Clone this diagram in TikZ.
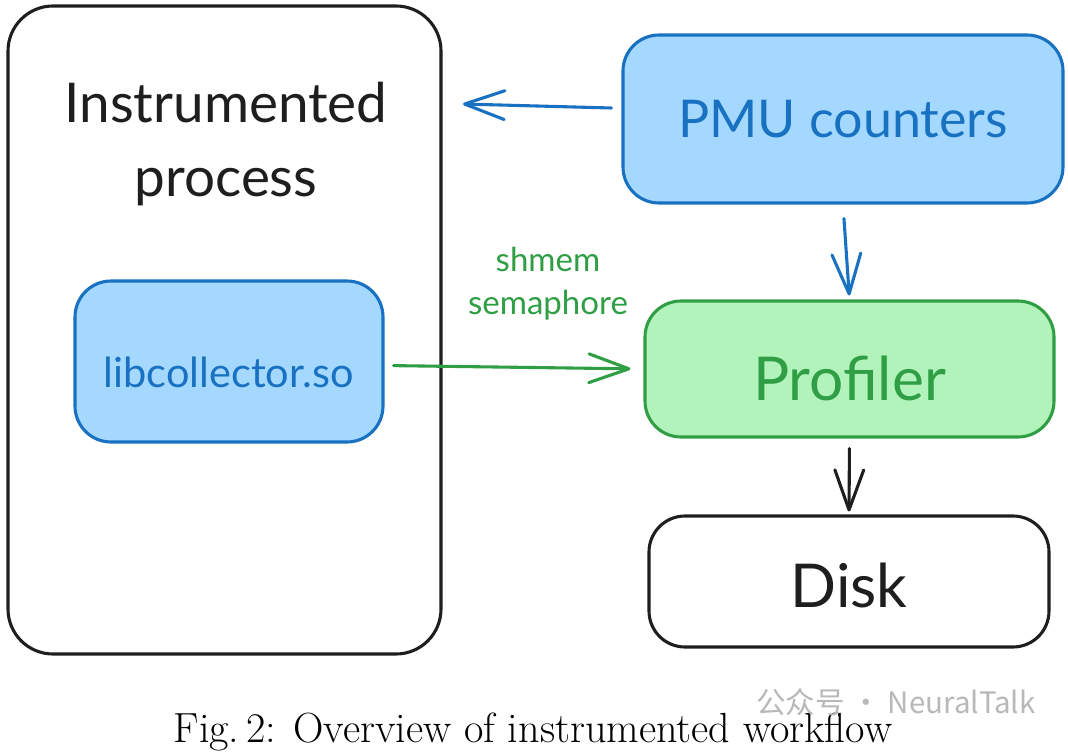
\documentclass[tikz,border=0pt]{standalone}
\usepackage{fontspec}
\setsansfont{Lato}
\newfontfamily\cjk{Noto Sans CJK SC}
\usepackage{xcolor}
\usetikzlibrary{arrows.meta,positioning}
\definecolor{ink}{HTML}{1E1E1E}
\definecolor{pmublue}{HTML}{1971C2}
\definecolor{pmufill}{HTML}{A5D8FF}
\definecolor{profgreen}{HTML}{2F9E44}
\definecolor{proffill}{HTML}{B2F2BB}
\definecolor{mark}{HTML}{B8B8B8}

\tikzset{
  box/.style={draw=ink,line width=2.2pt,fill=white,rounded corners=0.9cm,
    font=\sffamily,text=ink,align=center,inner sep=0pt},
  bluebox/.style={box,draw=pmublue,fill=pmufill,text=pmublue},
  greenbox/.style={box,draw=profgreen,fill=proffill,text=profgreen},
  flow/.style={line width=2.2pt,line cap=round,
    -{Straight Barb[length=1cm,width=0.72cm,round]}},
}
\newcommand{\lowered}[2]{\raisebox{-#1}[0pt][0pt]{#2}}

\begin{document}
\begin{tikzpicture}
  \useasboundingbox (0,0) rectangle (26.7,-18.825);
  % left: the traced process and its preload library
  \node[box,rounded corners=1.125cm,minimum width=10.825cm,minimum height=16.2cm] (proc) at (5.6125,-8.25) {};
  \node[font=\sffamily\fontsize{39}{52}\selectfont,text=ink,align=center] (title) at (5.65,-3.6) {Instrumented\\process};
  \node[bluebox,minimum width=7.7cm,minimum height=4.025cm,font=\sffamily\fontsize{29.5}{34}\selectfont] (lib) at (5.725,-9.0375) {\lowered{0.64cm}{libcollector.so}};
  % right column
  \node[bluebox,minimum width=11cm,minimum height=4.2cm,font=\sffamily\fontsize{37}{44}\selectfont] (pmu) at (21.075,-2.975) {PMU counters};
  \node[greenbox,minimum width=10.225cm,minimum height=3.4cm,font=\sffamily\fontsize{43}{50}\selectfont] (prof) at (21.2375,-9.225) {\lowered{0.78cm}{Profiler}};
  \node[box,minimum width=10cm,minimum height=3.275cm,font=\sffamily\fontsize{43}{50}\selectfont] (disk) at (21.225,-14.5375) {\lowered{0.66cm}{Disk}};
  \coordinate (inlet) at (11.575,-2.6);
  % connectors
  \draw[flow,pmublue] ([xshift=-0.25cm,yshift=0.275cm]pmu.west) -- (inlet);
  \draw[flow,pmublue,shorten <=0.35cm,shorten >=0.1cm] (pmu.south) -- (prof.north);
  \draw[flow,profgreen,shorten <=0.225cm,shorten >=0.325cm] ([yshift=-0.1cm]lib.east) -- (prof.west);
  \draw[flow,ink,shorten <=0.25cm,shorten >=0.075cm] (prof.south) -- (disk.north);
  \node[font=\sffamily\fontsize{23.5}{30.6}\selectfont,text=profgreen,align=center] (sync) at (13.7,-7.1) {shmem\\semaphore};
  % caption and watermark
  \node[font=\rmfamily\fontsize{30}{36}\selectfont] (caption) at (13.325,-18.3) {Fig.\,2: Overview of instrumented workflow};
  \node[font=\cjk\fontsize{21}{25}\selectfont,text=mark] (wm) at (22.4,-17.55) {公众号 · NeuralTalk};
\end{tikzpicture}
\end{document}
